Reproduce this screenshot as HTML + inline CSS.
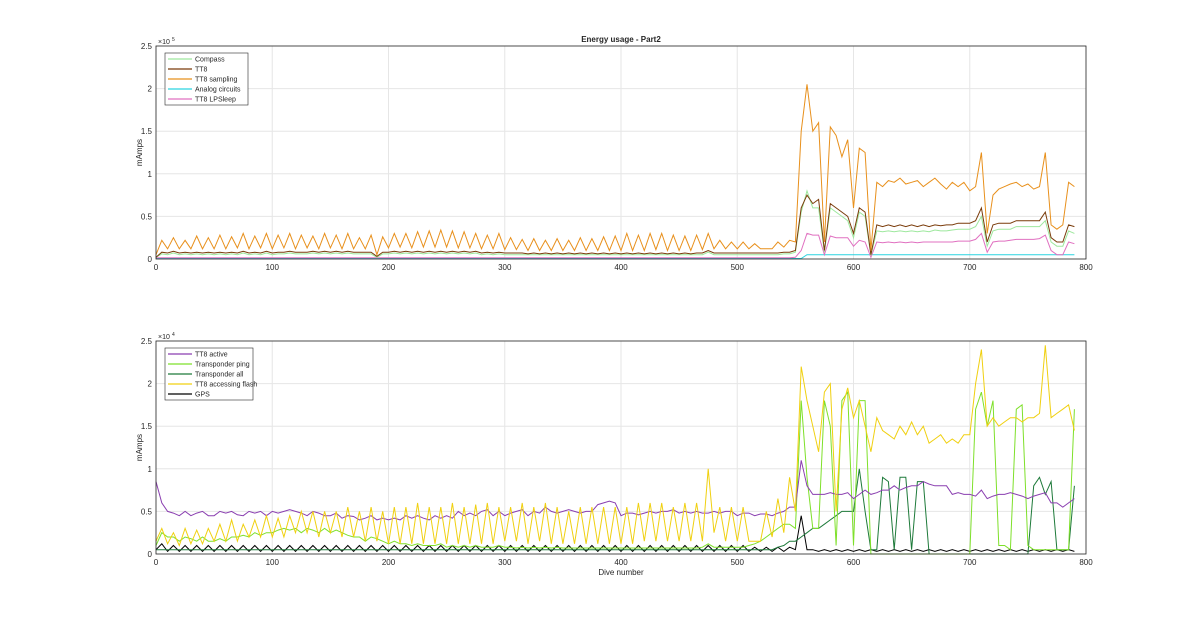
<!DOCTYPE html>
<html><head><meta charset="utf-8"><style>
body{margin:0;background:#fff;font-family:"Liberation Sans",sans-serif}
svg text{font-family:"Liberation Sans",sans-serif;fill:#262626}
</style></head><body>
<svg id="c" width="1200" height="622" viewBox="0 0 1200 622"></svg>
<script>
// step-5 dive numbers 0..790
const dives=[];for(let d=0;d<=790;d+=5)dives.push(d);
const xTicks=[0,100,200,300,400,500,600,700,800];
const yTicks=[0,0.5,1,1.5,2,2.5];
const yTickLabels=["0","0.5","1","1.5","2","2.5"];
function rep(v,n){return Array(n).fill(v);}
const ttSampling=[0.05,0.22,0.12,0.25,0.12,0.22,0.12,0.27,0.12,0.25,
0.12,0.28,0.12,0.26,0.13,0.3,0.12,0.27,0.13,0.3,
0.12,0.28,0.13,0.3,0.12,0.28,0.13,0.27,0.12,0.3,
0.13,0.28,0.12,0.3,0.12,0.25,0.12,0.28,0.05,0.26,
0.13,0.3,0.14,0.3,0.13,0.32,0.14,0.33,0.14,0.34,
0.14,0.33,0.13,0.32,0.13,0.3,0.12,0.28,0.12,0.3,
0.11,0.25,0.11,0.23,0.1,0.24,0.1,0.22,0.1,0.24,
0.1,0.22,0.1,0.25,0.1,0.24,0.1,0.26,0.1,0.27,
0.1,0.3,0.1,0.28,0.1,0.3,0.11,0.3,0.1,0.28,
0.1,0.27,0.1,0.28,0.11,0.3,0.12,0.22,0.12,0.2,
0.12,0.2,0.12,0.18,0.12,0.12,0.12,0.2,0.14,0.22,
0.2,1.5,2.05,1.5,1.6,0.2,1.55,1.45,1.2,1.4,
0.6,1.3,1.25,0.1,0.9,0.85,0.92,0.9,0.95,0.88,
0.9,0.92,0.85,0.9,0.95,0.88,0.82,0.9,0.85,0.9,
0.8,0.85,1.25,0.3,0.75,0.82,0.85,0.88,0.9,0.85,
0.88,0.82,0.85,1.25,0.4,0.35,0.4,0.9,0.85];
const tt8=[0.02,0.08,0.07,0.09,0.07,0.08,0.07,0.08,0.07,0.08,
0.07,0.08,0.07,0.08,0.07,0.09,0.07,0.08,0.07,0.09,
0.07,0.08,0.08,0.09,0.08,0.08,0.08,0.09,0.08,0.09,
0.08,0.09,0.08,0.09,0.08,0.08,0.08,0.08,0.03,0.08,
0.08,0.09,0.08,0.09,0.08,0.09,0.08,0.09,0.08,0.09,
0.08,0.09,0.08,0.09,0.08,0.09,0.07,0.08,0.07,0.08,
0.07,0.07,0.07,0.07,0.06,0.07,0.06,0.07,0.06,0.07,
0.06,0.07,0.06,0.07,0.06,0.07,0.06,0.07,0.06,0.07,
0.06,0.07,0.06,0.07,0.06,0.07,0.06,0.07,0.06,0.07,
0.06,0.07,0.06,0.07,0.07,0.1,0.07,0.07,0.07,0.07,
0.07,0.07,0.07,0.07,0.07,0.07,0.07,0.07,0.08,0.08,
0.1,0.6,0.75,0.65,0.7,0.1,0.65,0.6,0.55,0.5,
0.3,0.6,0.55,0.05,0.4,0.38,0.4,0.38,0.4,0.38,
0.4,0.38,0.4,0.38,0.4,0.39,0.4,0.4,0.42,0.42,
0.42,0.45,0.6,0.2,0.4,0.42,0.42,0.42,0.45,0.45,
0.45,0.45,0.45,0.55,0.25,0.2,0.2,0.4,0.38];
const compass=[0.02,0.06,0.05,0.07,0.05,0.06,0.05,0.06,0.05,0.06,
0.05,0.06,0.05,0.06,0.05,0.07,0.05,0.06,0.05,0.07,
0.05,0.06,0.06,0.07,0.06,0.06,0.06,0.07,0.06,0.07,
0.06,0.07,0.06,0.07,0.06,0.06,0.06,0.06,0.02,0.06,
0.06,0.07,0.06,0.07,0.06,0.07,0.06,0.07,0.06,0.07,
0.06,0.07,0.06,0.07,0.06,0.07,0.05,0.06,0.05,0.06,
0.05,0.05,0.05,0.05,0.05,0.05,0.05,0.05,0.05,0.05,
0.05,0.05,0.05,0.05,0.05,0.05,0.05,0.05,0.05,0.05,
0.05,0.05,0.05,0.05,0.05,0.05,0.05,0.05,0.05,0.05,
0.05,0.05,0.05,0.05,0.05,0.08,0.05,0.05,0.05,0.05,
0.05,0.05,0.05,0.05,0.05,0.05,0.05,0.05,0.06,0.06,
0.08,0.55,0.8,0.6,0.6,0.08,0.6,0.55,0.5,0.45,
0.25,0.55,0.5,0.04,0.33,0.32,0.33,0.32,0.33,0.32,
0.33,0.32,0.33,0.32,0.34,0.33,0.33,0.34,0.35,0.35,
0.35,0.38,0.5,0.15,0.33,0.35,0.35,0.35,0.38,0.38,
0.38,0.38,0.38,0.45,0.2,0.15,0.15,0.33,0.3];
const lpSleep=rep(0.015,110).concat([0.02,0.1,0.3,0.28,0.28,0.05,0.27,0.25,0.25,0.25,
0.15,0.22,0.2,0.02,0.2,0.19,0.2,0.19,0.2,0.19,
0.2,0.19,0.2,0.2,0.2,0.2,0.2,0.2,0.21,0.21,
0.21,0.23,0.3,0.08,0.2,0.21,0.21,0.22,0.23,0.23,
0.23,0.23,0.24,0.28,0.1,0.05,0.05,0.2,0.18]);
const analog=rep(0.006,112).concat(rep(0.05,47));
const ttActive=[0.85,0.6,0.5,0.48,0.45,0.5,0.45,0.48,0.5,0.45,
0.45,0.5,0.48,0.5,0.46,0.45,0.5,0.48,0.5,0.45,
0.5,0.48,0.5,0.52,0.5,0.48,0.45,0.5,0.48,0.45,
0.45,0.48,0.42,0.45,0.44,0.4,0.42,0.45,0.4,0.42,
0.4,0.42,0.4,0.45,0.42,0.45,0.42,0.4,0.45,0.42,
0.45,0.42,0.5,0.45,0.48,0.45,0.5,0.52,0.45,0.5,
0.45,0.48,0.5,0.52,0.45,0.5,0.48,0.55,0.5,0.48,
0.5,0.52,0.5,0.48,0.5,0.5,0.58,0.6,0.62,0.6,
0.45,0.48,0.48,0.46,0.48,0.5,0.48,0.5,0.5,0.52,
0.48,0.5,0.48,0.5,0.48,0.48,0.5,0.48,0.5,0.5,
0.45,0.48,0.48,0.45,0.47,0.47,0.45,0.48,0.5,0.55,
0.55,1.1,0.8,0.7,0.7,0.7,0.72,0.7,0.7,0.72,
0.65,0.7,0.75,0.7,0.72,0.75,0.75,0.8,0.75,0.78,
0.8,0.8,0.85,0.82,0.8,0.8,0.8,0.7,0.72,0.7,
0.7,0.68,0.75,0.65,0.68,0.7,0.7,0.72,0.7,0.68,
0.65,0.68,0.7,0.72,0.6,0.6,0.55,0.6,0.65];
const flash=[0.15,0.3,0.12,0.25,0.1,0.3,0.12,0.28,0.12,0.3,
0.15,0.35,0.15,0.4,0.15,0.35,0.2,0.4,0.2,0.45,
0.2,0.42,0.2,0.45,0.25,0.5,0.25,0.5,0.2,0.5,
0.25,0.5,0.2,0.55,0.2,0.5,0.15,0.55,0.15,0.5,
0.12,0.55,0.12,0.55,0.12,0.6,0.12,0.55,0.12,0.55,
0.12,0.6,0.12,0.55,0.12,0.58,0.12,0.6,0.12,0.55,
0.15,0.55,0.15,0.6,0.12,0.55,0.15,0.6,0.12,0.55,
0.12,0.5,0.12,0.55,0.12,0.55,0.12,0.55,0.12,0.55,
0.12,0.55,0.12,0.6,0.15,0.6,0.15,0.6,0.15,0.55,
0.15,0.6,0.15,0.6,0.15,1.0,0.25,0.55,0.15,0.55,
0.15,0.55,0.15,0.15,0.15,0.5,0.2,0.65,0.25,0.9,
0.5,2.2,1.8,1.5,1.2,1.9,2.0,0.5,1.7,1.95,
1.6,1.8,1.5,1.2,1.6,1.45,1.4,1.35,1.5,1.4,
1.55,1.4,1.5,1.3,1.35,1.4,1.3,1.35,1.3,1.4,
1.4,2.0,2.4,1.5,1.6,1.5,1.55,1.6,1.6,1.55,
1.6,1.6,1.65,2.45,1.6,1.65,1.7,1.75,1.45];
const ping=[0.1,0.25,0.2,0.2,0.15,0.2,0.18,0.15,0.2,0.15,
0.15,0.18,0.15,0.2,0.2,0.22,0.2,0.25,0.22,0.25,
0.25,0.28,0.3,0.28,0.3,0.25,0.3,0.28,0.25,0.3,
0.25,0.28,0.25,0.22,0.2,0.2,0.15,0.2,0.18,0.15,
0.12,0.15,0.12,0.12,0.1,0.12,0.1,0.1,0.1,0.12,
0.08,0.1,0.08,0.1,0.08,0.1,0.08,0.08,0.08,0.1,
0.08,0.08,0.07,0.08,0.07,0.08,0.07,0.08,0.07,0.08,
0.07,0.07,0.07,0.07,0.07,0.07,0.07,0.07,0.07,0.07,
0.07,0.07,0.07,0.07,0.07,0.07,0.07,0.07,0.07,0.07,
0.07,0.07,0.07,0.07,0.08,0.12,0.08,0.08,0.08,0.08,
0.08,0.08,0.1,0.12,0.15,0.2,0.25,0.3,0.35,0.35,
0.3,1.8,0.9,0.3,0.3,1.8,1.5,0.1,1.8,1.9,
0.1,1.8,1.8,0,0,0,0,0,0,0,
0,0,0,0,0,0,0,0,0,0,
0,1.7,1.9,1.5,1.8,0.1,0.1,0.05,1.7,1.75,
0.1,0.05,0.05,0.05,0.05,0.05,0.05,0.05,1.7];
const all=rep(0.05,100).concat([0.05,0.05,0.05,0.05,0.05,0.05,0.05,0.08,0.1,0.15,
0.15,0.2,0.25,0.3,0.3,0.35,0.4,0.45,0.5,0.5,
0.5,1.0,0.5,0.05,0.05,0.9,0.85,0.05,0.9,0.9,
0.05,0.85,0.85,0,0,0,0,0,0,0,
0,0,0,0,0,0,0,0,0,0,
0,0.8,0.9,0.7,0.85,0.05,0.05,0.05,0.8,0.8,
0.05,0.05,0.05,0.05,0.05,0.05,0.05,0.05,0.8]);
const gps=[0.05,0.12,0.03,0.1,0.03,0.1,0.03,0.1,0.03,0.1,
0.03,0.1,0.03,0.1,0.03,0.1,0.03,0.1,0.03,0.1,
0.03,0.1,0.03,0.1,0.03,0.1,0.03,0.1,0.03,0.1,
0.03,0.1,0.03,0.1,0.03,0.1,0.03,0.1,0.03,0.1,
0.03,0.1,0.03,0.1,0.03,0.1,0.03,0.1,0.03,0.1,
0.03,0.1,0.03,0.1,0.03,0.1,0.03,0.1,0.03,0.1,
0.03,0.1,0.03,0.1,0.03,0.1,0.03,0.1,0.03,0.1,
0.03,0.1,0.03,0.1,0.03,0.1,0.03,0.1,0.03,0.1,
0.03,0.1,0.03,0.1,0.03,0.1,0.03,0.1,0.03,0.1,
0.03,0.1,0.03,0.1,0.03,0.1,0.03,0.1,0.03,0.1,
0.03,0.1,0.03,0.08,0.03,0.08,0.03,0.08,0.03,0.08,
0.05,0.45,0.05,0.05,0.03,0.05,0.03,0.05,0.03,0.05,
0.03,0.05,0.03,0.05,0.03,0.05,0.03,0.05,0.03,0.05,
0.03,0.05,0.03,0.05,0.03,0.05,0.03,0.05,0.03,0.05,
0.03,0.05,0.03,0.05,0.03,0.05,0.03,0.05,0.03,0.05,
0.03,0.05,0.03,0.05,0.03,0.05,0.03,0.05,0.03];

const svg=document.getElementById('c');const NS='http://www.w3.org/2000/svg';
function el(t,a,txt){const e=document.createElementNS(NS,t);for(const k in a)e.setAttribute(k,a[k]);if(txt!==undefined)e.textContent=txt;svg.appendChild(e);return e;}
const X0=156,X1=1086;
function xs(v){return X0+(v/800)*(X1-X0);}
function drawAxes(top,bot,exp,name){
  const ys=v=>bot-(v/2.5)*(bot-top);
  let r=el('rect',{x:X0,y:top,width:X1-X0,height:bot-top,fill:'#fff',stroke:'none'});
  
  
  xTicks.forEach(t=>{let g=el('line',{x1:xs(t),x2:xs(t),y1:top,y2:bot,stroke:'#e6e6e6','stroke-width':1});
    
    
    let tl=el('text',{x:xs(t),y:bot+11,'font-size':8,'text-anchor':'middle'},String(t));
    
    });
  yTicks.forEach((t,i)=>{let g=el('line',{x1:X0,x2:X1,y1:ys(t),y2:ys(t),stroke:'#e6e6e6','stroke-width':1});
    
    
    let tl=el('text',{x:X0-4,y:ys(t)+3,'font-size':8,'text-anchor':'end'},yTickLabels[i]);
    
    });
  let ex=el('text',{x:X0+2,y:top-2,'font-size':7},'×10');
  
  
  let ex2=el('text',{x:X0+16,y:top-5,'font-size':5},exp);
  
  
  let yl=el('text',{x:142,y:(top+bot)/2,'font-size':8,'text-anchor':'middle',transform:`rotate(-90 142 ${(top+bot)/2})`},'mAmps');
  
  
  return ys;
}
function drawSeries(vals,ys,color,name){
  const d=vals.map((v,i)=>(i?'L':'M')+xs(dives[i]).toFixed(1)+' '+ys(v).toFixed(1)).join(' ');
  let p=el('path',{d:d,fill:'none',stroke:color,'stroke-width':1});
  
  
}
function frame(top,bot,name){let f=el('rect',{x:X0,y:top,width:X1-X0,height:bot-top,fill:'none',stroke:'#262626','stroke-width':0.8});
  
  }
function legend(x,y,w,entries,name){
  let b=el('rect',{x:x,y:y,width:w,height:entries.length*10+2,fill:'#fff',stroke:'#262626','stroke-width':0.6});
  
  
  entries.forEach((e,i)=>{const yy=y+6+i*10;
    let l=el('line',{x1:x+3,x2:x+27,y1:yy,y2:yy,stroke:e[1],'stroke-width':1.2});
    
    
    let t=el('text',{x:x+30,y:yy+2.5,'font-size':7},e[0]);
    
    });
}
const C={compass:'#9ee89e',tt8:'#7a3b0a',samp:'#e8901c',analog:'#2ad4e0',lp:'#e070c0',act:'#8a3fb0',ping:'#7ee02a',all:'#1e7a3a',flash:'#f0d010',gps:'#000'};
// top
const ysT=drawAxes(46,259,'5','top');
drawSeries(analog,ysT,C.analog,'analog-circuits-line');
drawSeries(lpSleep,ysT,C.lp,'tt8-lpsleep-line');
drawSeries(compass,ysT,C.compass,'compass-line');
drawSeries(tt8,ysT,C.tt8,'tt8-line');
drawSeries(ttSampling,ysT,C.samp,'tt8-sampling-line');
frame(46,259,'top');
legend(165,53,83,[['Compass',C.compass],['TT8',C.tt8],['TT8 sampling',C.samp],['Analog circuits',C.analog],['TT8 LPSleep',C.lp]],'top-legend');
let ti=el('text',{x:621,y:42,'font-size':8,'font-weight':'bold','text-anchor':'middle'},'Energy usage - Part2');


// bottom
const ysB=drawAxes(341,554,'4','bottom');
drawSeries(gps,ysB,C.gps,'gps-line');
drawSeries(all,ysB,C.all,'transponder-all-line');
drawSeries(ping,ysB,C.ping,'transponder-ping-line');
drawSeries(ttActive,ysB,C.act,'tt8-active-line');
drawSeries(flash,ysB,C.flash,'tt8-accessing-flash-line');
frame(341,554,'bottom');
legend(165,348,88,[['TT8 active',C.act],['Transponder ping',C.ping],['Transponder all',C.all],['TT8 accessing flash',C.flash],['GPS',C.gps]],'bottom-legend');
let xt=el('text',{x:621,y:575,'font-size':8,'text-anchor':'middle'},'Dive number');


</script>
</body></html>
